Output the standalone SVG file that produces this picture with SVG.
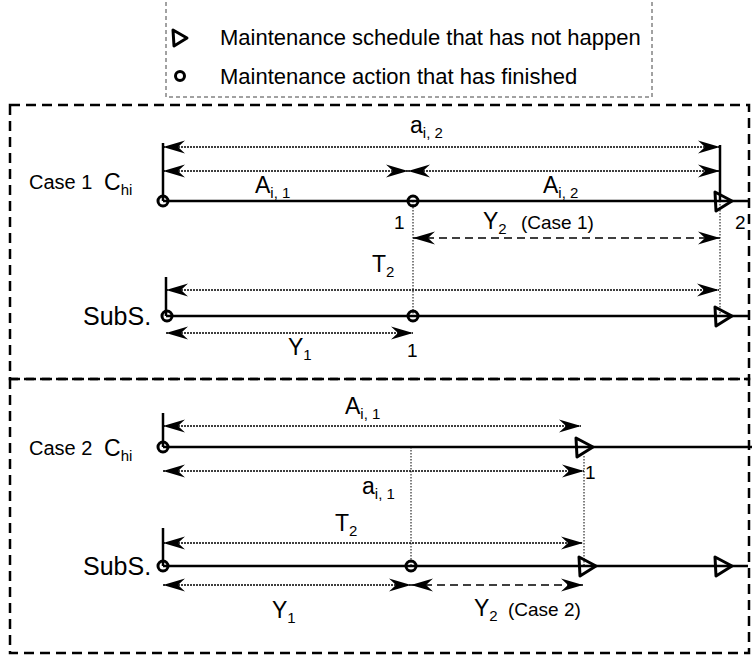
<svg xmlns="http://www.w3.org/2000/svg" width="756" height="661" viewBox="0 0 756 661">
<defs>
<marker id="ah" viewBox="-24 -8 26 16" refX="0" refY="0" markerWidth="26" markerHeight="16" markerUnits="userSpaceOnUse" orient="auto-start-reverse">
<path d="M0,0 L-22,-6.5 L-15,0 L-22,6.5 Z" fill="#000"/>
</marker>
<style>
.box{fill:none;stroke:#000;stroke-width:2.5;stroke-dasharray:10 6}
.leg{fill:none;stroke:#444;stroke-width:1;stroke-dasharray:4 3}
.tl{stroke:#000;stroke-width:2.5;fill:none}
.tick{stroke:#000;stroke-width:2.5}
.dim{stroke:#000;stroke-width:1.3;stroke-dasharray:2 1;fill:none;marker-start:url(#ah);marker-end:url(#ah)}
.dsh{stroke:#000;stroke-width:1.4;stroke-dasharray:8 5;fill:none;marker-start:url(#ah);marker-end:url(#ah)}
.guide{stroke:#000;stroke-width:1;stroke-dasharray:1.5 1.5}
.done{fill:none;stroke:#000;stroke-width:3}
.sched{fill:none;stroke:#000;stroke-width:3;stroke-linejoin:round}
text{font-family:"Liberation Sans",Arial,Helvetica,sans-serif;fill:#000}
.lt{font-size:22px}
.lbl{font-size:20px}
.subs{font-size:25px}
.big{font-size:23px}
.sub{font-size:15px}
.num{font-size:19px}
.cs{font-size:19px}
</style>
</defs>

<g id="legend">
<rect class="leg" x="166" y="-2" width="486" height="99"/>
<polygon class="sched" points="173,30 187,38 174,46"/>
<text class="lt" x="220" y="45">Maintenance schedule that has not happen</text>
<circle class="done" cx="180" cy="76" r="4.5"/>
<text class="lt" x="220" y="84">Maintenance action that has finished</text>
</g>

<g id="case1-frame">
<rect class="box" x="10" y="105" width="739" height="274"/>
</g>
<g id="case2-frame">
<rect class="box" x="10" y="379" width="739" height="274"/>
</g>

<g id="connectors">
<line class="guide" x1="413" y1="201" x2="413" y2="316"/>
<line class="guide" x1="720" y1="201" x2="720" y2="316"/>
<line class="dim" x1="163" y1="147" x2="720" y2="147"/>
<line class="dim" x1="163" y1="171" x2="408" y2="171"/>
<line class="dim" x1="408" y1="171" x2="720" y2="171"/>
<line class="dsh" x1="413" y1="238" x2="720" y2="238"/>
<line class="dim" x1="166" y1="290" x2="719" y2="290"/>
<line class="dim" x1="166" y1="333" x2="413" y2="333"/>
<line class="guide" x1="411" y1="447" x2="411" y2="566"/>
<line class="guide" x1="584" y1="456" x2="584" y2="566"/>
<line class="dim" x1="163" y1="426" x2="581" y2="426"/>
<line class="dim" x1="163" y1="471" x2="584" y2="471"/>
<line class="dim" x1="163" y1="543" x2="583" y2="543"/>
<line class="dim" x1="163" y1="585" x2="411" y2="585"/>
<line class="dsh" x1="411" y1="585" x2="583" y2="585"/>
</g>

<g id="case1-chi">
<text class="lbl" x="29" y="189">Case 1</text>
<text class="big" x="104" y="190">C<tspan class="sub" dy="5">hi</tspan></text>
<line class="tl" x1="163" y1="201" x2="748" y2="201"/>
<line class="tick" x1="163" y1="143" x2="163" y2="201"/>
<line class="tick" x1="720" y1="145" x2="720" y2="201"/>
<circle class="done" cx="163" cy="201" r="5"/>
<circle class="done" cx="413" cy="201" r="5"/>
<polygon class="sched" points="715,192 732,201 716,211"/>
<text class="num" x="394" y="229">1</text>
<text class="num" x="735" y="229">2</text>
<text class="big" x="410" y="133">a<tspan class="sub" dy="5">i, 2</tspan></text>
<text class="big" x="255" y="193">A<tspan class="sub" dy="5">i, 1</tspan></text>
<text class="big" x="543" y="193">A<tspan class="sub" dy="5">i, 2</tspan></text>
<text class="big" x="483" y="229">Y<tspan class="sub" dy="5">2</tspan></text>
<text class="cs" x="521" y="229">(Case 1)</text>
</g>

<g id="case1-subs">
<text class="subs" x="83" y="325">SubS.</text>
<line class="tl" x1="166" y1="316" x2="748" y2="316"/>
<line class="tick" x1="166" y1="277" x2="166" y2="316"/>
<circle class="done" cx="167" cy="316" r="5"/>
<circle class="done" cx="413" cy="316" r="5"/>
<polygon class="sched" points="715,307 732,316 716,326"/>
<text class="big" x="372" y="272">T<tspan class="sub" dy="5">2</tspan></text>
<text class="big" x="288" y="355">Y<tspan class="sub" dy="5">1</tspan></text>
<text class="num" x="407" y="357">1</text>
</g>

<g id="case2-chi">
<text class="lbl" x="29" y="455">Case 2</text>
<text class="big" x="104" y="456">C<tspan class="sub" dy="5">hi</tspan></text>
<line class="tl" x1="163" y1="447" x2="752" y2="447"/>
<line class="tick" x1="163" y1="413" x2="163" y2="447"/>
<circle class="done" cx="163" cy="447" r="5"/>
<polygon class="sched" points="576,438 593,447 577,457"/>
<text class="num" x="585" y="479">1</text>
<text class="big" x="345" y="414">A<tspan class="sub" dy="5">i, 1</tspan></text>
<text class="big" x="362" y="494">a<tspan class="sub" dy="5">i, 1</tspan></text>
</g>

<g id="case2-subs">
<text class="subs" x="83" y="575">SubS.</text>
<line class="tl" x1="163" y1="566" x2="748" y2="566"/>
<line class="tick" x1="163" y1="528" x2="163" y2="566"/>
<circle class="done" cx="163" cy="566" r="5"/>
<circle class="done" cx="411" cy="566" r="5"/>
<polygon class="sched" points="579,557 596,566 580,576"/>
<polygon class="sched" points="715,557 732,566 716,576"/>
<text class="big" x="335" y="531">T<tspan class="sub" dy="5">2</tspan></text>
<text class="big" x="272" y="618">Y<tspan class="sub" dy="5">1</tspan></text>
<text class="big" x="474" y="616">Y<tspan class="sub" dy="5">2</tspan></text>
<text class="cs" x="508" y="616">(Case 2)</text>
</g>
</svg>
